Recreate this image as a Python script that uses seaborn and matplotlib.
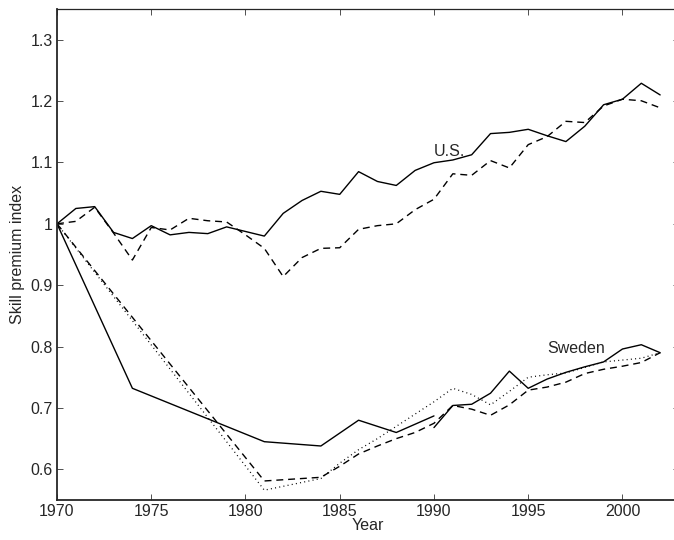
"""Skill premium index, U.S. vs Sweden."""

import pandas as pd
import seaborn as sns
import matplotlib
matplotlib.use("Agg")
import matplotlib.pyplot as plt

# U.S. series (annual 1970-2002)
us_years = list(range(1970, 2003))
us_solid = [1.0, 1.025, 1.028, 0.986, 0.976, 0.997, 0.982, 0.986, 0.984, 0.995,
            0.9875, 0.98, 1.017, 1.038, 1.053, 1.048, 1.085, 1.069, 1.0625, 1.087,
            1.0995, 1.104, 1.1125, 1.147, 1.149, 1.154, 1.1435, 1.134, 1.159, 1.194,
            1.203, 1.229, 1.210]
us_dashed = [1.0, 1.004, 1.027, 0.985, 0.941, 0.994, 0.99, 1.009, 1.005, 1.003,
             0.982, 0.96, 0.914, 0.945, 0.96, 0.961, 0.991, 0.997, 1.0, 1.023,
             1.04, 1.0815, 1.079, 1.103, 1.091, 1.129, 1.142, 1.167, 1.165, 1.192,
             1.203, 1.2005, 1.189]

# Sweden series
swe_a_years = [1970, 1974, 1981, 1984, 1986, 1988, 1990]
swe_a = [1.0, 0.732, 0.645, 0.638, 0.680, 0.660, 0.687]
swe_b_years = list(range(1990, 2003))
swe_b = [0.668, 0.704, 0.706, 0.724, 0.760, 0.732, 0.747, 0.758, 0.767, 0.775,
         0.796, 0.803, 0.790]
swe_late_years = [1970, 1981] + list(range(1984, 2003))
swe_dashed = [1.0, 0.581, 0.587, 0.605, 0.625, 0.638, 0.650, 0.660, 0.675, 0.704,
              0.698, 0.688, 0.705, 0.729, 0.734, 0.742, 0.756, 0.763, 0.768, 0.774,
              0.790]
swe_dotted = [1.0, 0.566, 0.585, 0.61, 0.632, 0.65, 0.67, 0.69, 0.71, 0.732,
              0.722, 0.705, 0.727, 0.750, 0.754, 0.757, 0.766, 0.775, 0.778, 0.781,
              0.790]

y_ticks = [0.6, 0.7, 0.8, 0.9, 1.0, 1.1, 1.2, 1.3]
y_tick_labels = ["0.6", "0.7", "0.8", "0.9", "1", "1.1", "1.2", "1.3"]
x_ticks = [1970, 1975, 1980, 1985, 1990, 1995, 2000]


def main() -> None:
    sns.set_style("ticks")
    plt.rcParams["font.family"] = ["Liberation Sans", "DejaVu Sans"]

    fig = plt.figure(figsize=(6.74, 5.40), dpi=100)
    ax = fig.add_axes([57 / 674, 40 / 540, 622 / 674, 491 / 540])

    series = [
        (us_years, us_solid, "-", 1.0),
        (us_years, us_dashed, (0, (5, 3.5)), 1.0),
        (swe_a_years, swe_a, "-", 1.0),
        (swe_b_years, swe_b, "-", 1.0),
        (swe_late_years, swe_dashed, (0, (5, 3.5)), 1.0),
        (swe_late_years, swe_dotted, (0, (0.8, 2.6)), 0.9),
    ]
    for xs, ys, ls, lw in series:
        df = pd.DataFrame({"Year": xs, "Index": ys})
        sns.lineplot(data=df, x="Year", y="Index", ax=ax, color="black",
                     linestyle=ls, linewidth=lw)

    ax.set_xlim(1970, 2003)
    ax.set_ylim(0.55, 1.35)
    ax.set_xticks(x_ticks)
    ax.set_yticks(y_ticks)
    ax.set_yticklabels(y_tick_labels)
    ax.tick_params(direction="in", length=4.3, width=0.6, labelsize=11.5,
                   top=True, right=True, color="#333333", pad=3)
    for side in ["left", "bottom"]:
        ax.spines[side].set_linewidth(1.3)
    ax.spines["top"].set_linewidth(0.9)
    ax.spines["right"].set_linewidth(0.9)

    ax.set_xlabel("Year", fontsize=11.5, labelpad=-1)
    ax.set_ylabel("Skill premium index", fontsize=11.5, labelpad=4)

    ax.text(1990.0, 1.1097, "U.S.", fontsize=11.5, ha="left", va="baseline")
    ax.text(1996.0, 0.789, "Sweden", fontsize=11.5, ha="left", va="baseline")

    fig.savefig("out.png", dpi=100)
    plt.close(fig)


if __name__ == "__main__":
    main()
